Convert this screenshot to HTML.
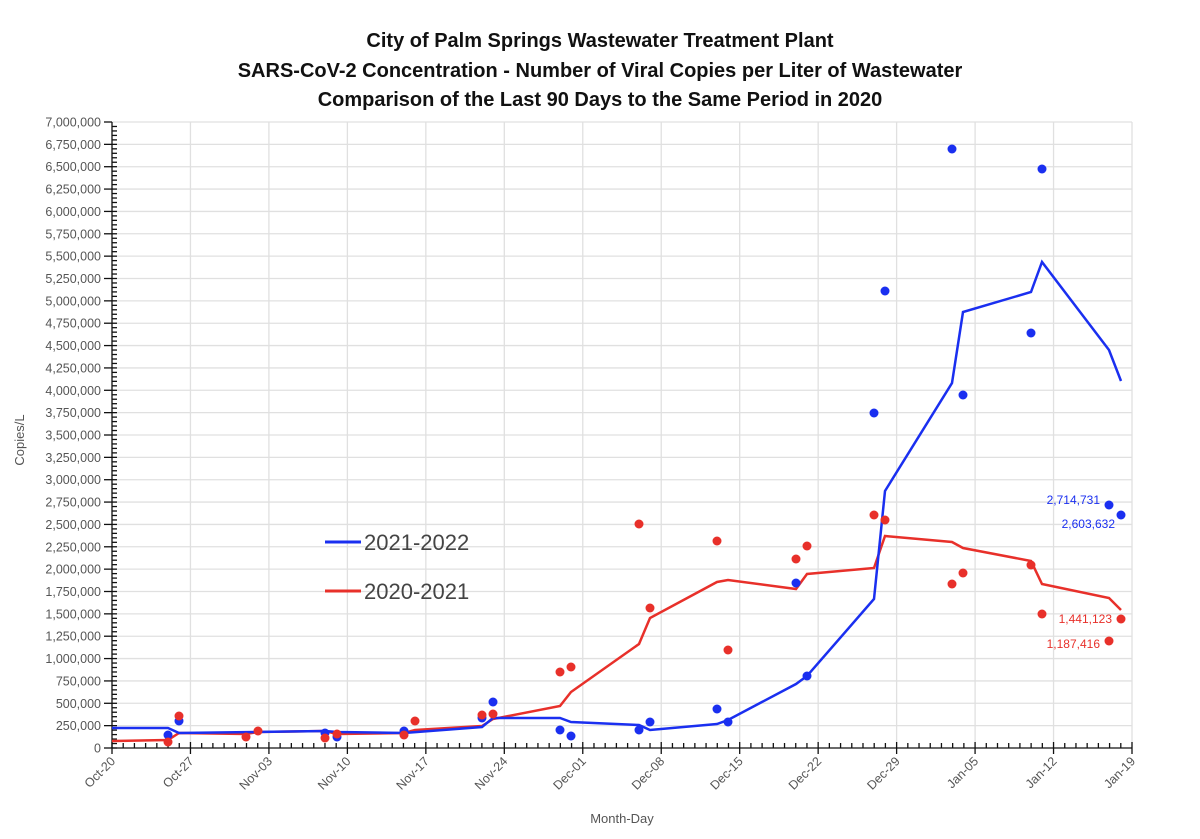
<!DOCTYPE html>
<html><head><meta charset="utf-8"><style>
body{margin:0;background:#fff;}
svg{display:block;font-family:"Liberation Sans",sans-serif;}
</style></head><body>
<svg width="1200" height="839" xmlns="http://www.w3.org/2000/svg">
<g font-weight="bold" font-size="20" text-anchor="middle" fill="#111">
<text x="600" y="47">City of Palm Springs Wastewater Treatment Plant</text>
<text x="600" y="77">SARS-CoV-2 Concentration - Number of Viral Copies per Liter of Wastewater</text>
<text x="600" y="106">Comparison of the Last 90 Days to the Same Period in 2020</text>
</g>
<g id="grid" stroke="#e0e0e0" stroke-width="1.3"></g>
<g id="axes" stroke="#111" stroke-width="1.3"></g>
<g id="labels" font-size="12.5" fill="#555"></g>
<text x="24" y="440" font-size="13" fill="#555" text-anchor="middle" transform="rotate(-90 24 440)">Copies/L</text>
<text x="622" y="823" font-size="13" fill="#555" text-anchor="middle">Month-Day</text>
<polyline fill="none" stroke="#e8302a" stroke-width="2.5" points="112,741 168,740 179,733 246,734 258,732 325,731 337,734 404,733 415,730 482,726 493,719 560,706 571,692 639,644 650,618 717,582 728,580 796,589 807,574 874,568 885,536 952,542 963,548 1031,561 1042,584 1109,598 1121,610"/>
<polyline fill="none" stroke="#1a2ff0" stroke-width="2.5" points="112,728 168,728 179,733 325,731 337,732 404,733 482,727 493,718 560,718 571,722 639,725 650,730 717,724 728,720 796,684 807,676 874,599 885,491 952,383 963,312 1031,292 1042,262 1109,350 1121,381"/>
<g id="dots"></g>
<line x1="325" y1="542" x2="361" y2="542" stroke="#1a2ff0" stroke-width="3"/>
<text x="364" y="550" font-size="22" fill="#444">2021-2022</text>
<line x1="325" y1="591" x2="361" y2="591" stroke="#e8302a" stroke-width="3"/>
<text x="364" y="599" font-size="22" fill="#444">2020-2021</text>
<g font-size="12" text-anchor="end">
<text x="1100" y="504" fill="#1a2ff0">2,714,731</text>
<text x="1115" y="528" fill="#1a2ff0">2,603,632</text>
<text x="1112" y="623" fill="#e8302a">1,441,123</text>
<text x="1100" y="648" fill="#e8302a">1,187,416</text>
</g>
<script>
const ns="http://www.w3.org/2000/svg";
function el(p,t,a,txt){const e=document.createElementNS(ns,t);for(const k in a)e.setAttribute(k,a[k]);if(txt)e.textContent=txt;document.getElementById(p).appendChild(e);}
const x0=112,x1=1132,y0=748,yt=122,day=(x1-x0)/91;
const Y=v=>y0-v/7e6*(y0-yt);
for(let i=0;i<=28;i++){const v=i*250000,y=Y(v);
 if(i>0)el("grid","line",{x1:x0,x2:x1,y1:y,y2:y});
 el("axes","line",{x1:x0-8,x2:x0,y1:y,y2:y});
 el("labels","text",{x:x0-11,y:y+4.5,"text-anchor":"end"},v.toLocaleString("en-US"));}
for(let i=0;i<140;i++){const y=Y(i*50000);el("axes","line",{x1:x0,x2:x0+5,y1:y,y2:y});}
const lab=["Oct-20","Oct-27","Nov-03","Nov-10","Nov-17","Nov-24","Dec-01","Dec-08","Dec-15","Dec-22","Dec-29","Jan-05","Jan-12","Jan-19"];
for(let i=0;i<=91;i++){const x=x0+i*day;
 if(i%7==0){if(i>0)el("grid","line",{x1:x,x2:x,y1:yt,y2:y0});
  el("axes","line",{x1:x,x2:x,y1:y0-6,y2:y0+6});
  const l=lab[i/7];el("labels","text",{x:x+4,y:y0+14,"text-anchor":"end",transform:`rotate(-45 ${x+4} ${y0+14})`},l);}
 else el("axes","line",{x1:x,x2:x,y1:y0-5,y2:y0});}
el("axes","line",{x1:x0,x2:x1,y1:y0,y2:y0});
el("axes","line",{x1:x0,x2:x0,y1:yt,y2:y0});
const blue=[[168,735],[179,721],[325,733],[337,737],[404,731],[482,718],[493,702],[560,730],[571,736],[639,730],[650,722],[717,709],[728,722],[796,583],[807,676],[874,413],[885,291],[952,149],[963,395],[1031,333],[1042,169],[1109,505],[1121,515]];
const red=[[168,742],[179,716],[246,737],[258,731],[325,738],[337,734],[404,735],[415,721],[482,715],[493,714],[560,672],[571,667],[639,524],[650,608],[717,541],[728,650],[796,559],[807,546],[874,515],[885,520],[952,584],[963,573],[1031,565],[1042,614],[1109,641],[1121,619]];
blue.forEach(p=>el("dots","circle",{cx:p[0],cy:p[1],r:4.5,fill:"#1a2ff0"}));
red.forEach(p=>el("dots","circle",{cx:p[0],cy:p[1],r:4.5,fill:"#e8302a"}));
</script>
</svg>
</body></html>
